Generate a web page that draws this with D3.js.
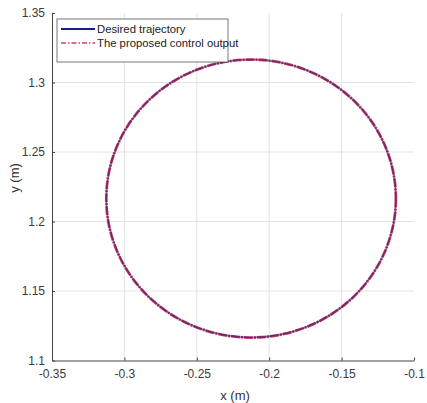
<!DOCTYPE html>
<html>
<head>
<meta charset="utf-8">
<script src="https://cdn.jsdelivr.net/npm/d3@7"></script>
<style>
  body { margin: 0; background: #fff; }
  text { font-family: "Liberation Sans", Arial, sans-serif; fill: #333; }
</style>
</head>
<body>
<svg id="chart"></svg>
<script>
// chart values
var xTicks = [-0.35, -0.3, -0.25, -0.2, -0.15, -0.1];
var yTicks = [1.1, 1.15, 1.2, 1.25, 1.3, 1.35];
var xDomain = [-0.35, -0.1];
var yDomain = [1.1, 1.35];
// trajectory circle: center x, center y, radius (both series coincide)
var desiredCircle = [-0.2125, 1.2165, 0.1];
var outputCircle = [-0.2125, 1.2165, 0.1];
var legendLabels = ['Desired trajectory', 'The proposed control output'];

var canvasWidth = 427, canvasHeight = 403;
var margin = { top: 13, right: 13, bottom: 42, left: 52 };
var width = 414 - margin.left;
var height = 360.5 - margin.top;

var svg = d3.select('#chart')
  .attr('width', canvasWidth)
  .attr('height', canvasHeight);

var g = svg.append('g')
  .attr('transform', 'translate(' + margin.left + ',' + margin.top + ')');

var xScale = d3.scaleLinear().domain(xDomain).range([0, width]);
var yScale = d3.scaleLinear().domain(yDomain).range([height, 0]);

// grid
g.selectAll('.vgrid').data(xTicks.slice(1, -1)).enter().append('line')
  .attr('x1', function(d) { return xScale(d); })
  .attr('x2', function(d) { return xScale(d); })
  .attr('y1', 0).attr('y2', height)
  .attr('stroke', '#e3e3e3').attr('stroke-width', 1);
g.selectAll('.hgrid').data(yTicks.slice(1, -1)).enter().append('line')
  .attr('y1', function(d) { return yScale(d); })
  .attr('y2', function(d) { return yScale(d); })
  .attr('x1', 0).attr('x2', width)
  .attr('stroke', '#e3e3e3').attr('stroke-width', 1);

// axes
var xAxis = g.append('g')
  .attr('transform', 'translate(0,' + height + ')')
  .call(d3.axisBottom(xScale).tickValues(xTicks).tickSizeInner(-3).tickSizeOuter(0).tickPadding(9)
    .tickFormat(function(d) { return String(d); }));
var yAxis = g.append('g')
  .call(d3.axisLeft(yScale).tickValues(yTicks).tickSizeInner(-3).tickSizeOuter(0).tickPadding(7)
    .tickFormat(function(d) { return String(d); }));

[xAxis, yAxis].forEach(function(ax) {
  ax.select('.domain').attr('stroke', '#444');
  ax.selectAll('.tick line').attr('stroke', '#444');
  ax.selectAll('.tick text').style('font-size', '12px').style('fill', '#3a3a3a')
    .style('font-family', '"Liberation Sans", Arial, sans-serif');
});

// axis labels
svg.append('text')
  .attr('x', 235).attr('y', 400)
  .attr('text-anchor', 'middle')
  .style('font-size', '13px')
  .text('x (m)');
svg.append('text')
  .attr('transform', 'rotate(-90)')
  .attr('x', -178).attr('y', 19)
  .attr('text-anchor', 'middle')
  .style('font-size', '13px')
  .text('y (m)');

// trajectories
function drawCircle(c, color, width, dash, opacity) {
  g.append('ellipse')
    .attr('cx', xScale(c[0]))
    .attr('cy', yScale(c[1]))
    .attr('rx', xScale(c[0] + c[2]) - xScale(c[0]))
    .attr('ry', yScale(c[1]) - yScale(c[1] + c[2]))
    .attr('fill', 'none')
    .attr('stroke', color)
    .attr('stroke-width', width)
    .attr('stroke-opacity', opacity)
    .attr('stroke-dasharray', dash);
}
// red output sits under the blue reference; overlap reads as maroon
drawCircle(outputCircle, '#c2305e', 2.8, '9,1,2,1', 0.9);
drawCircle(desiredCircle, '#2a1060', 1.5, null, 0.55);

// legend
var legend = svg.append('g').attr('transform', 'translate(57,19)');
legend.append('rect')
  .attr('width', 171).attr('height', 43)
  .attr('fill', '#fff').attr('stroke', '#555').attr('stroke-width', 0.8);
var colors = ['#1a1a8c', '#d84060'];
var item = legend.selectAll('.item').data(legendLabels).enter().append('g')
  .attr('transform', function(d, i) { return 'translate(0,' + (10 + i * 14) + ')'; });
item.append('line')
  .attr('x1', 4).attr('x2', 38)
  .attr('stroke', function(d, i) { return colors[i]; })
  .attr('stroke-width', function(d, i) { return i ? 1.3 : 2; })
  .attr('stroke-dasharray', function(d, i) { return i ? '5,2,1.5,2' : null; });
item.append('text')
  .attr('x', 40).attr('y', 4)
  .style('font-size', '11.3px')
  .style('fill', '#222')
  .text(function(d) { return d; });
</script>
</body>
</html>
